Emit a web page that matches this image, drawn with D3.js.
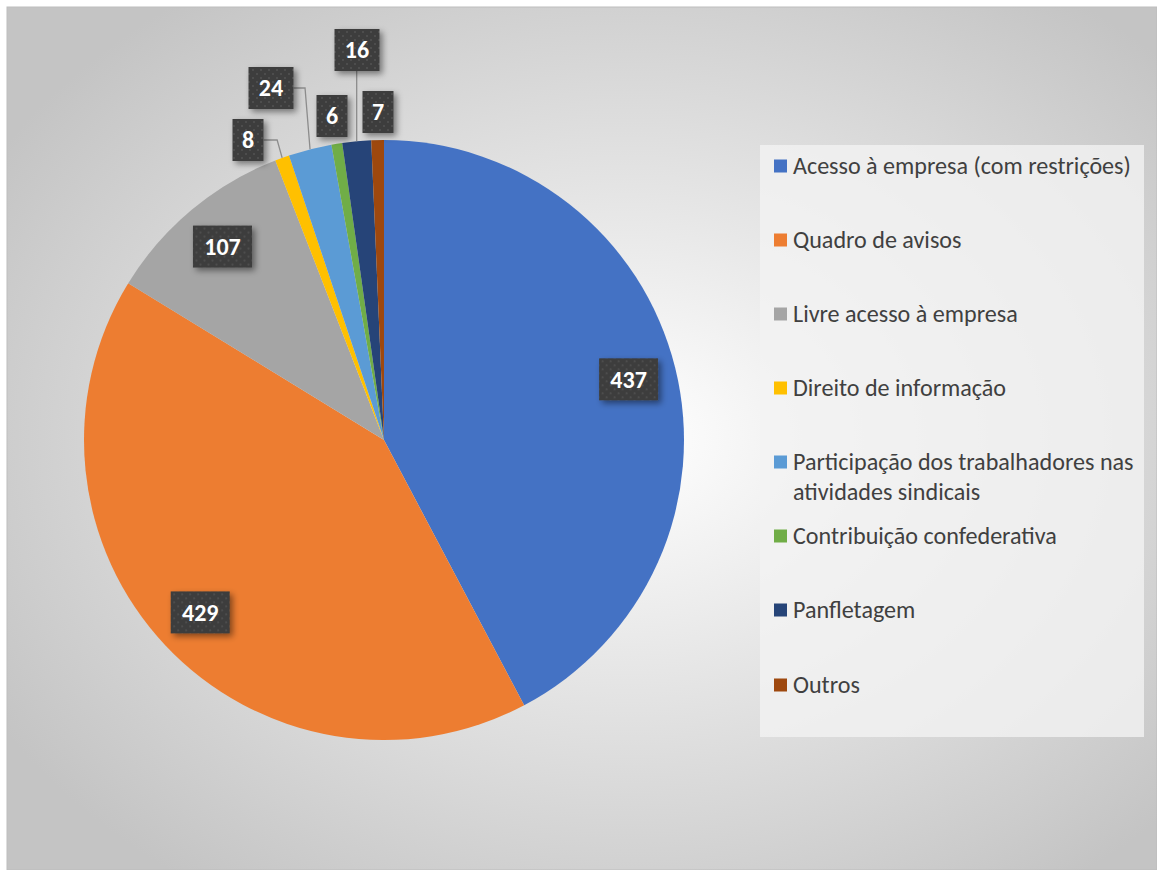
<!DOCTYPE html>
<html>
<head>
<meta charset="utf-8">
<script src="https://cdn.jsdelivr.net/npm/d3@7"></script>
<style>
  html, body { margin: 0; padding: 0; background: #fff; }
  svg { display: block; }
</style>
</head>
<body>
<svg id="chart" width="1157" height="870"></svg>
<script>
// data
const categories = [
  'Acesso à empresa (com restrições)',
  'Quadro de avisos',
  'Livre acesso à empresa',
  'Direito de informação',
  'Participação dos trabalhadores nas atividades sindicais',
  'Contribuição confederativa',
  'Panfletagem',
  'Outros'
];
const values = [437, 429, 107, 8, 24, 6, 16, 7];
const colors = ['#4472C4', '#ED7D31', '#A5A5A5', '#FFC000', '#5B9BD5', '#70AD47', '#264478', '#9E480E'];
// legend text split in lines (as wrapped in the picture)
const legendLines = [
  ['Acesso à empresa (com restrições)'],
  ['Quadro de avisos'],
  ['Livre acesso à empresa'],
  ['Direito de informação'],
  ['Participação dos trabalhadores nas', 'atividades sindicais'],
  ['Contribuição confederativa'],
  ['Panfletagem'],
  ['Outros']
];

// label placement for the thin slices (offset from pie center), null = default
const labelOffsets = [null, null, null, [-136, -300], [-113, -352], [-52, -324], [-27, -390], [-6, -328]];

const W = 1157, H = 870;
const cx = 384, cy = 440, R = 300;
const FONT = "Carlito, Calibri, 'Open Sans', sans-serif";

const svg = d3.select('#chart');
const defs = svg.append('defs');

// background gradient
const bg = defs.append('radialGradient').attr('id', 'bg')
  .attr('cx', '54%').attr('cy', '50%').attr('r', '64%');
bg.append('stop').attr('offset', '0%').attr('stop-color', '#ffffff');
bg.append('stop').attr('offset', '100%').attr('stop-color', '#c4c4c4');

// dotted texture of the label boxes
const pat = defs.append('pattern').attr('id', 'dots')
  .attr('width', 8).attr('height', 8).attr('patternUnits', 'userSpaceOnUse');
pat.append('rect').attr('width', 8).attr('height', 8).attr('fill', '#3c3c3c');
pat.append('rect').attr('x', 1).attr('y', 1).attr('width', 2).attr('height', 2).attr('fill', '#4e4e4e');
pat.append('rect').attr('x', 5).attr('y', 5).attr('width', 2).attr('height', 2).attr('fill', '#4e4e4e');

const shadow = defs.append('filter').attr('id', 'shadow')
  .attr('x', '-30%').attr('y', '-30%').attr('width', '170%').attr('height', '170%');
shadow.append('feDropShadow').attr('dx', 3).attr('dy', 3).attr('stdDeviation', 3)
  .attr('flood-color', '#000').attr('flood-opacity', 0.45);

svg.append('rect').attr('x', 7).attr('y', 7).attr('width', W - 7).attr('height', H - 7)
  .attr('fill', 'url(#bg)').attr('stroke', '#bdbdbd').attr('stroke-width', 1);

// pie
const pie = d3.pie().sort(null).value(d => d)(values);
const arc = d3.arc().innerRadius(0).outerRadius(R);
const g = svg.append('g').attr('transform', `translate(${cx},${cy})`);

g.selectAll('path.slice')
  .data(pie)
  .join('path')
  .attr('class', 'slice')
  .attr('d', arc)
  .attr('fill', (d, i) => colors[i]);

// labels
const labelArc = d3.arc().innerRadius(R * 0.84).outerRadius(R * 0.84);
const edgeArc = d3.arc().innerRadius(R).outerRadius(R);

const labels = pie.map((d, i) => {
  const p = labelOffsets[i] ? labelOffsets[i] : labelArc.centroid(d);
  const txt = String(values[i]);
  const w = 14 * txt.length + 17;
  return { i, x: p[0], y: p[1], w, h: 42, txt, edge: edgeArc.centroid(d), moved: !!labelOffsets[i] };
});

// leader lines
const leaders = g.append('g');
labels.forEach(l => {
  if (!l.moved) return;
  const [ex, ey] = l.edge;
  const right = l.x + l.w / 2, bottom = l.y + l.h / 2;
  let pts = null;
  if (ex > right + 4) {
    pts = [[right, l.y], [ex - 5, l.y], [ex, ey]];
  } else if (ex > l.x - l.w / 2 && ex < right && ey - bottom > 20) {
    pts = [[ex, bottom], [ex, ey]];
  }
  if (pts) {
    leaders.append('path').attr('d', d3.line()(pts))
      .attr('fill', 'none').attr('stroke', '#8c8c8c').attr('stroke-width', 1.3);
  }
});

const lg = g.selectAll('g.lab').data(labels).join('g').attr('class', 'lab')
  .attr('transform', d => `translate(${d.x},${d.y})`);
lg.append('rect')
  .attr('x', d => -d.w / 2).attr('y', d => -d.h / 2)
  .attr('width', d => d.w).attr('height', d => d.h)
  .attr('fill', 'url(#dots)').attr('filter', 'url(#shadow)');
lg.append('text')
  .attr('text-anchor', 'middle').attr('dy', '0.35em')
  .attr('fill', '#fff').attr('font-family', FONT).attr('font-weight', 'bold')
  .attr('font-size', 24)
  .text(d => d.txt);

// legend
svg.append('rect').attr('x', 760).attr('y', 145).attr('width', 384).attr('height', 592)
  .attr('fill', '#f2f2f2').attr('fill-opacity', 0.8);

const legY = [166, 240, 314, 388, 462, 536, 610, 685];
const leg = svg.append('g').selectAll('g').data(categories).join('g')
  .attr('transform', (d, i) => `translate(774,${legY[i]})`);
leg.append('rect').attr('x', 0).attr('y', -6.5).attr('width', 13).attr('height', 13)
  .attr('fill', (d, i) => colors[i]);
const lt = leg.append('text').attr('x', 19).attr('y', 0)
  .attr('fill', '#404040').attr('font-family', FONT).attr('font-size', 20);
lt.selectAll('tspan').data((d, i) => legendLines[i]).join('tspan')
  .attr('x', 19).attr('dy', (d, j) => j === 0 ? '0.35em' : 30)
  .text(d => d);

// fit legend font to the width seen in the picture
const len = lt.node().getComputedTextLength();
const target = 338;
lt.attr('font-size', 20 * target / len);
</script>
</body>
</html>
